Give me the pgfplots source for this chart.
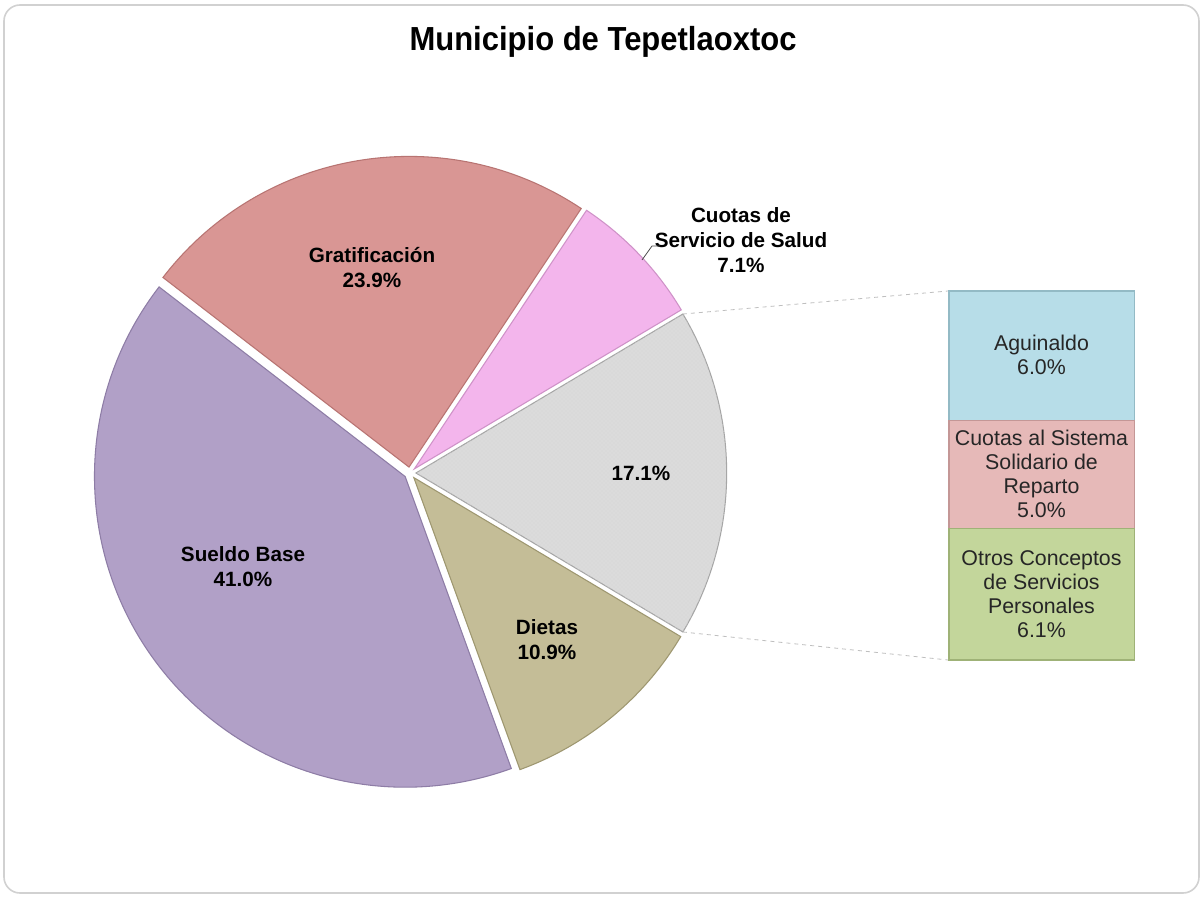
\documentclass[border=0pt]{standalone}
\usepackage{fontspec}
\setmainfont{Liberation Sans}
\newfontfamily\titlefont[FakeStretch=0.93]{Liberation Sans}
\usepackage{pgfplots}
\pgfplotsset{compat=1.18}
\usetikzlibrary{calc,patterns}
\definecolor{cSueldo}{HTML}{B1A0C7}
\definecolor{cSueldoD}{HTML}{8E7DA6}
\definecolor{cGrat}{HTML}{D99694}
\definecolor{cGratD}{HTML}{B87472}
\definecolor{cSalud}{HTML}{F3B5EC}
\definecolor{cSaludD}{HTML}{CF92C8}
\definecolor{cOtros}{HTML}{D9D9D9}
\definecolor{cOtrosD}{HTML}{A6A6A6}
\definecolor{cDietas}{HTML}{C4BD97}
\definecolor{cDietasD}{HTML}{9E9770}
\definecolor{cAgui}{HTML}{B7DDE8}
\definecolor{cAguiD}{HTML}{93BAC5}
\definecolor{cSist}{HTML}{E6B9B8}
\definecolor{cSistD}{HTML}{C49796}
\definecolor{cOC}{HTML}{C3D69B}
\definecolor{cOCD}{HTML}{9FB277}
% pie values (percent), counter-clockwise from the split slice
\newcommand{\valSalud}{7.1}
\newcommand{\valGrat}{23.9}
\newcommand{\valSueldo}{41.0}
\newcommand{\valDietas}{10.9}
\newcommand{\valOtros}{17.1}
\pgfmathsetmacro{\pieAngA}{1.8*\valOtros}
\pgfmathsetmacro{\pieAngB}{\pieAngA+3.6*\valSalud}
\pgfmathsetmacro{\pieAngC}{\pieAngB+3.6*\valGrat}
\pgfmathsetmacro{\pieAngD}{\pieAngC+3.6*\valSueldo}
\pgfmathsetmacro{\pieAngE}{\pieAngD+3.6*\valDietas}
\pgfmathsetmacro{\pieAngF}{\pieAngE+3.6*\valOtros}
\pgfmathsetmacro{\pieMidA}{(\pieAngA+\pieAngB)/2}
\pgfmathsetmacro{\pieMidB}{(\pieAngB+\pieAngC)/2}
\pgfmathsetmacro{\pieMidC}{(\pieAngC+\pieAngD)/2}
\pgfmathsetmacro{\pieMidD}{(\pieAngD+\pieAngE)/2}
\pgfmathsetmacro{\pieMidE}{(\pieAngE+\pieAngF)/2}
\newcommand{\pieRad}{233pt}
\newcommand{\pieExp}{4.5pt}
\begin{document}
\begin{tikzpicture}
\begin{axis}[at={(0pt,0pt)}, anchor=south west, scale only axis,
  width=903pt, height=674.25pt,
  xmin=0, xmax=1204, ymin=0, ymax=899, y dir=reverse,
  hide axis, clip=false]
\addplot[draw=none, forget plot] coordinates {(0,0) (1204,899)};
\fill[white] (axis cs:0,0) rectangle (axis cs:1204,899);
\draw[black!18, line width=1.2pt, rounded corners=12pt] (axis cs:4,5) rectangle (axis cs:1199,893);
\node[anchor=base, font=\titlefont\bfseries\fontsize{25pt}{29pt}\selectfont] at (axis cs:603,51) {Municipio de Tepetlaoxtoc};
% slices
\filldraw[fill=cSalud, draw=cSaludD, line width=0.8pt] ($(axis cs:410,473)+(\pieMidA:\pieExp)$) -- ++(\pieAngA:\pieRad) arc[start angle=\pieAngA, end angle=\pieAngB, radius=\pieRad] -- cycle;
\filldraw[fill=cGrat, draw=cGratD, line width=0.8pt] ($(axis cs:410,473)+(\pieMidB:\pieExp)$) -- ++(\pieAngB:\pieRad) arc[start angle=\pieAngB, end angle=\pieAngC, radius=\pieRad] -- cycle;
\filldraw[fill=cSueldo, draw=cSueldoD, line width=0.8pt] ($(axis cs:410,473)+(\pieMidC:\pieExp)$) -- ++(\pieAngC:\pieRad) arc[start angle=\pieAngC, end angle=\pieAngD, radius=\pieRad] -- cycle;
\filldraw[fill=cDietas, draw=cDietasD, line width=0.8pt] ($(axis cs:410,473)+(\pieMidD:\pieExp)$) -- ++(\pieAngD:\pieRad) arc[start angle=\pieAngD, end angle=\pieAngE, radius=\pieRad] -- cycle;
\filldraw[fill=cOtros, draw=cOtrosD, line width=0.8pt] ($(axis cs:410,473)+(\pieMidE:\pieExp)$) -- ++(\pieAngE:\pieRad) arc[start angle=\pieAngE, end angle=\pieAngF, radius=\pieRad] -- cycle;
\fill[pattern=crosshatch dots, pattern color=black!10] ($(axis cs:410,473)+(\pieMidE:\pieExp)$) -- ++(\pieAngE:\pieRad) arc[start angle=\pieAngE, end angle=\pieAngF, radius=\pieRad] -- cycle;
% connector lines
\draw[black!25, dashed, line width=0.6pt] ($(axis cs:410,473)+(\pieMidE:\pieExp)+(\pieAngF:\pieRad)$) -- (axis cs:948,291);
\draw[black!25, dashed, line width=0.6pt] ($(axis cs:410,473)+(\pieMidE:\pieExp)+(\pieAngE:\pieRad)$) -- (axis cs:948,660);
% pie labels
\node[align=center, font=\bfseries\fontsize{15.5pt}{18.75pt}\selectfont] at (axis cs:372,268) {Gratificación\\23.9\%};
\node[align=center, font=\bfseries\fontsize{15.5pt}{18.75pt}\selectfont] at (axis cs:243,567) {Sueldo Base\\41.0\%};
\node[align=center, font=\bfseries\fontsize{15.5pt}{18.75pt}\selectfont] at (axis cs:547,640) {Dietas\\10.9\%};
\node[align=center, font=\bfseries\fontsize{15.5pt}{18.75pt}\selectfont] at (axis cs:641,473) {17.1\%};
\node[align=center, font=\bfseries\fontsize{15.5pt}{18.75pt}\selectfont] at (axis cs:741,240) {Cuotas de\\Servicio de Salud\\7.1\%};
\draw[black!70, line width=0.6pt] (axis cs:642,260) -- (axis cs:652,246) -- (axis cs:660,246);
\end{axis}
\begin{axis}[at={(711pt,179.25pt)}, anchor=south west, scale only axis,
  width=140.25pt, height=276.75pt,
  xmin=-0.5, xmax=0.5, ymin=0, ymax=17.1,
  hide axis, clip=false, ybar stacked, bar width=139pt]
\addplot[fill=cOC, draw=cOCD, line width=1pt] coordinates {(0,6.1)};
\addplot[fill=cSist, draw=cSistD, line width=1pt] coordinates {(0,5.0)};
\addplot[fill=cAgui, draw=cAguiD, line width=1pt] coordinates {(0,6.0)};
\end{axis}
\begin{axis}[at={(0pt,0pt)}, anchor=south west, scale only axis,
  width=903pt, height=674.25pt,
  xmin=0, xmax=1204, ymin=0, ymax=899, y dir=reverse,
  hide axis, clip=false]
\addplot[draw=none, forget plot] coordinates {(0,0) (1204,899)};
\node[align=center, text=black!85, font=\fontsize{16pt}{18pt}\selectfont] at (axis cs:1041.5,355) {Aguinaldo\\6.0\%};
\node[align=center, text=black!85, font=\fontsize{16pt}{18pt}\selectfont] at (axis cs:1041.5,474) {Cuotas al Sistema\\Solidario de\\Reparto\\5.0\%};
\node[align=center, text=black!85, font=\fontsize{16pt}{18pt}\selectfont] at (axis cs:1041.5,594) {Otros Conceptos\\de Servicios\\Personales\\6.1\%};
\end{axis}
\end{tikzpicture}
\end{document}
